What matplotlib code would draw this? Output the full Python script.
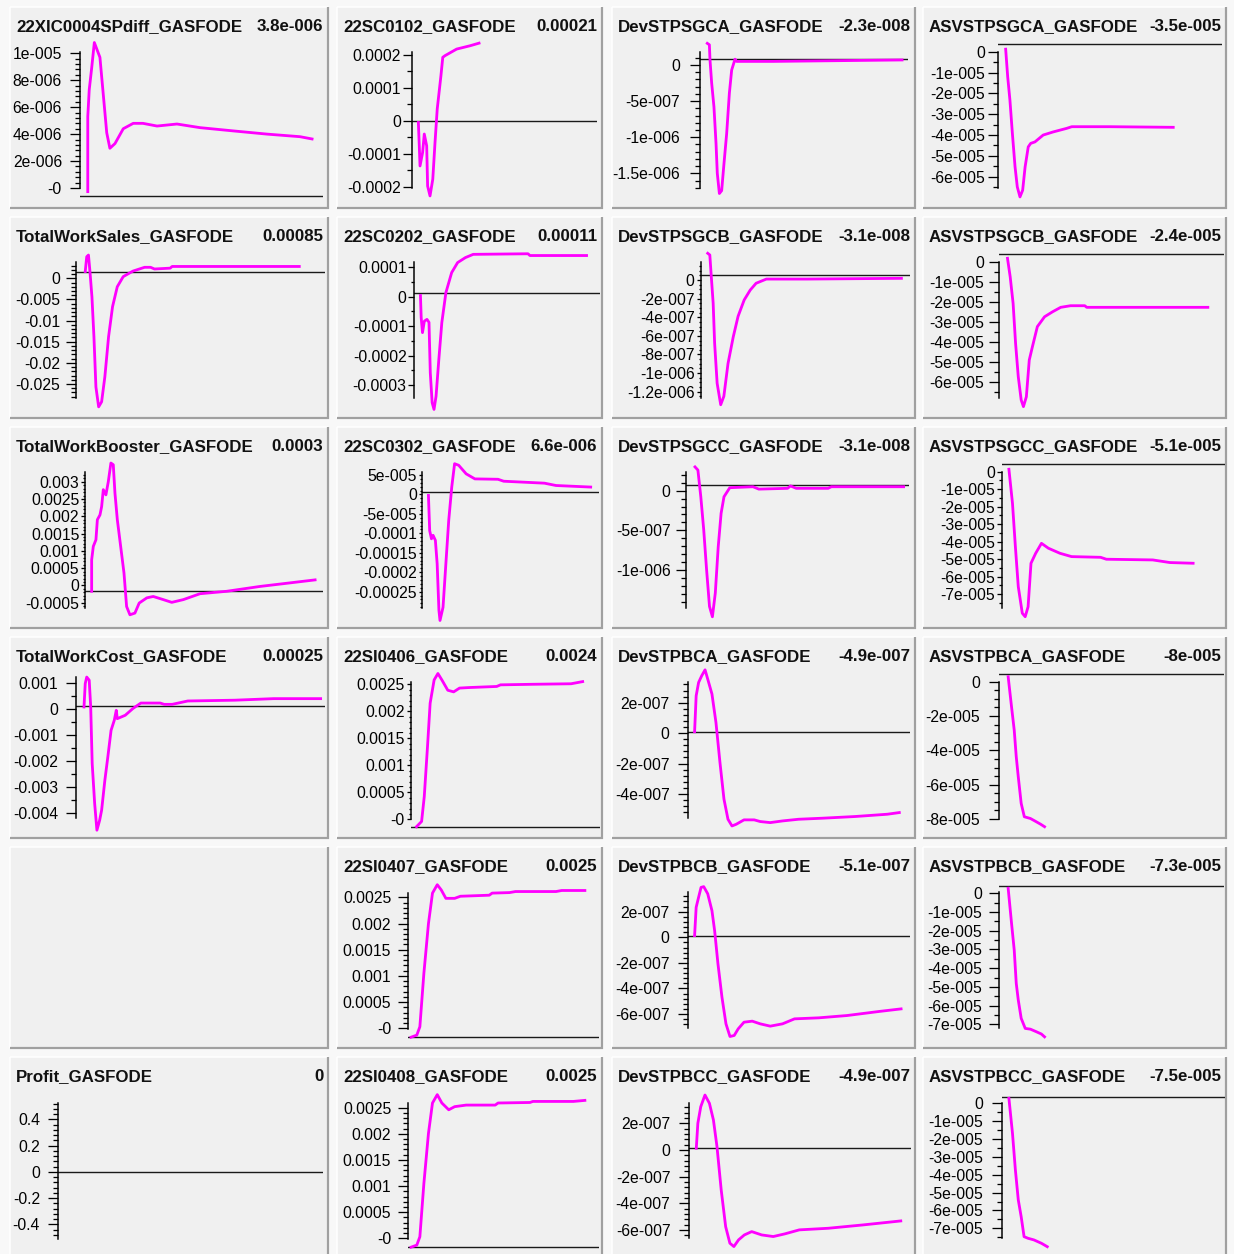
import numpy as np
import matplotlib
matplotlib.use("Agg")
import matplotlib.pyplot as plt
from matplotlib.patches import Rectangle
from matplotlib.ticker import FixedLocator, FixedFormatter

plt.rcParams['font.family'] = ['Liberation Sans', 'DejaVu Sans']

# ---------------- data (time in % of plot width, values in native units) ----------------
t_xic = [3.2, 3.2, 3.8, 4.8, 5.9, 8.2, 11.0, 12.3, 14.4, 17.8, 21.9, 25.9, 31.7, 39.9, 49.4, 63.0, 77.0, 90.5, 95.5]
y_xic = [-0.27e-6, 5.3e-6, 7.3e-6, 8.9e-6, 10.8e-6, 9.7e-6, 4.1e-6, 2.95e-6, 3.3e-6, 4.4e-6, 4.8e-6, 4.8e-6,
         4.6e-6, 4.75e-6, 4.48e-6, 4.24e-6, 4.0e-6, 3.81e-6, 3.64e-6]

t_sc0102 = [3.6, 4.1, 4.5, 5.9, 6.8, 8.1, 8.6, 9.9, 11.4, 12.6, 13.8, 15.8, 16.8, 18.0, 24.3, 31.5, 36.4]
y_sc0102 = [-0.05e-4, -0.76e-4, -1.37e-4, -0.96e-4, -0.40e-4, -0.76e-4, -1.98e-4, -2.28e-4, -1.77e-4,
            -0.66e-4, 0.36e-4, 1.37e-4, 1.93e-4, 1.98e-4, 2.18e-4, 2.28e-4, 2.36e-4]

t_dpsgca = [3.5, 4.5, 4.8, 5.6, 6.7, 7.7, 8.3, 9.3, 10.4, 11.5, 12.8, 14.1, 15.2, 16.8, 17.6, 35.2, 97.0]
y_dpsgca = [0.30e-6, 0.28e-6, 0.07e-6, -0.25e-6, -0.58e-6, -1.09e-6, -1.50e-6, -1.78e-6, -1.74e-6, -1.37e-6,
            -0.95e-6, -0.39e-6, -0.07e-6, 0.08e-6, 0.05e-6, 0.05e-6, 0.07e-6]

t_apsgca = [3.3, 4.2, 5.2, 6.3, 7.5, 8.5, 9.7, 10.9, 12.0, 13.4, 14.5, 16.4, 20.1, 24.6, 30.6, 32.9, 50.0, 78.3]
y_apsgca = [0.12e-5, -1.2e-5, -2.32e-5, -3.92e-5, -5.53e-5, -6.49e-5, -6.97e-5, -6.65e-5, -5.53e-5, -4.57e-5,
            -4.4e-5, -4.33e-5, -4.0e-5, -3.85e-5, -3.68e-5, -3.6e-5, -3.6e-5, -3.63e-5]

t_sales = [3.6, 4.2, 4.9, 5.5, 6.3, 7.1, 7.9, 9.0, 10.2, 11.5, 13.0, 14.6, 16.5, 18.9, 22.8, 27.5, 29.9, 31.5, 37.8, 38.6, 89.8]
y_sales = [0.0016, 0.0051, 0.0055, 0.0016, -0.0044, -0.0138, -0.0257, -0.0304, -0.0292, -0.0233, -0.0138,
           -0.0067, -0.0020, 0.0004, 0.0017, 0.0026, 0.0026, 0.0022, 0.0024, 0.0028, 0.0028]

t_sc0202 = [3.2, 3.6, 4.3, 5.3, 6.7, 7.8, 8.5, 9.5, 10.5, 11.6, 13.1, 14.7, 16.9, 20.0, 23.2, 27.4, 31.6, 61.1, 62.1, 92.6]
y_sc0202 = [0.04e-4, -0.71e-4, -1.22e-4, -0.83e-4, -0.77e-4, -0.87e-4, -2.59e-4, -3.6e-4, -3.83e-4, -3.38e-4,
            -2.13e-4, -0.88e-4, 0.14e-4, 0.82e-4, 1.16e-4, 1.33e-4, 1.44e-4, 1.46e-4, 1.40e-4, 1.40e-4]

t_dpsgcb = [3.4, 4.4, 5.0, 6.0, 6.7, 7.9, 9.6, 11.1, 13.1, 15.6, 17.9, 20.8, 23.7, 26.5, 31.4, 50.6, 95.9]
y_dpsgcb = [2.87e-7, 2.69e-7, 0.72e-7, -2.5e-7, -6.8e-7, -11.1e-7, -13.4e-7, -12.5e-7, -8.96e-7, -6.1e-7,
            -3.9e-7, -2.15e-7, -1.08e-7, -0.35e-7, 0.1e-7, 0.1e-7, 0.18e-7]

t_apsgcb = [3.6, 4.8, 6.1, 7.2, 8.4, 9.7, 10.7, 12.0, 13.3, 14.7, 16.9, 20.1, 23.7, 27.3, 31.7, 38.0, 38.9, 92.8]
y_apsgcb = [0.17e-5, -0.75e-5, -2.07e-5, -4.06e-5, -5.72e-5, -6.88e-5, -7.21e-5, -6.72e-5, -4.89e-5, -4.23e-5,
            -3.23e-5, -2.74e-5, -2.49e-5, -2.27e-5, -2.19e-5, -2.19e-5, -2.27e-5, -2.27e-5]

t_booster = [2.8, 2.8, 3.5, 4.6, 5.2, 6.3, 7.0, 7.7, 8.8, 9.8, 10.9, 11.9, 12.6, 13.6, 15.0, 16.4, 17.5, 18.9, 21.0,
             22.8, 26.0, 28.7, 32.9, 36.5, 41.4, 48.4, 59.6, 73.6, 83.4, 96.8]
y_booster = [-0.00017, 0.00074, 0.00113, 0.00132, 0.0019, 0.00204, 0.00228, 0.00277, 0.00262, 0.0030, 0.00354,
             0.00349, 0.00267, 0.0019, 0.00113, 0.00036, -0.00061, -0.00085, -0.0008, -0.00051, -0.00036,
             -0.00032, -0.00041, -0.00049, -0.00041, -0.00024, -0.00017, -0.00003, 0.00005, 0.00016]

t_sc0302 = [3.9, 4.6, 5.6, 6.5, 7.8, 8.8, 9.8, 10.4, 12.1, 13.7, 15.3, 17.0, 18.6, 20.9, 25.1, 30.0, 43.0, 46.2,
            69.1, 75.6, 85.3, 95.1]
y_sc0302 = [-0.26e-5, -9.3e-5, -11.4e-5, -10.5e-5, -11.8e-5, -17.8e-5, -29.8e-5, -32.4e-5, -29e-5, -17.8e-5,
            -6.7e-5, 1.9e-5, 7.9e-5, 7.5e-5, 5.3e-5, 4.0e-5, 3.9e-5, 3.4e-5, 2.9e-5, 2.3e-5, 2.1e-5, 1.9e-5]

t_dpsgcc = [3.9, 5.2, 6.5, 7.8, 9.1, 10.4, 11.7, 13.0, 14.3, 15.6, 16.9, 19.5, 29.9, 32.5, 45.4, 46.7, 49.3, 63.6, 65.0, 97.4]
y_dpsgcc = [3.0e-7, 2.6e-7, -0.76e-7, -4.9e-7, -10e-7, -14.6e-7, -15.9e-7, -12.9e-7, -7.1e-7, -2.85e-7,
            -0.76e-7, 0.38e-7, 0.5e-7, 0.2e-7, 0.3e-7, 0.6e-7, 0.3e-7, 0.3e-7, 0.5e-7, 0.5e-7]

t_apsgcc = [3.1, 4.7, 6.0, 7.3, 9.1, 10.4, 11.7, 13.0, 15.1, 17.7, 20.8, 26.0, 31.2, 44.2, 46.8, 67.6, 75.3, 85.7]
y_apsgcc = [0.14e-5, -1.81e-5, -4.29e-5, -6.58e-5, -8.1e-5, -8.3e-5, -7.73e-5, -5.24e-5, -4.67e-5, -4.1e-5,
            -4.38e-5, -4.67e-5, -4.86e-5, -4.9e-5, -5.01e-5, -5.05e-5, -5.2e-5, -5.24e-5]

t_cost = [3.1, 3.6, 4.2, 5.2, 5.8, 6.4, 7.4, 8.3, 9.4, 10.2, 11.5, 12.7, 14.0, 15.3, 16.1, 16.5, 19.7, 22.8, 26.0,
          33.8, 35.4, 38.6, 44.9, 63.8, 79.5, 98.4]
y_cost = [0.00009, 0.00099, 0.00124, 0.00112, 0.00009, -0.00209, -0.00363, -0.00465, -0.00427, -0.00388,
          -0.00273, -0.00183, -0.00081, -0.00042, -0.00004, -0.00036, -0.00023, 0.00003, 0.00024, 0.00024,
          0.00019, 0.00019, 0.00032, 0.00035, 0.00041, 0.00041]

t_si0406 = [3.1, 5.8, 7.2, 8.9, 10.3, 12.4, 14.4, 16.5, 19.6, 22.7, 25.8, 30.9, 45.4, 47.4, 63.9, 84.6, 90.7]
y_si0406 = [-0.000137, -0.00004, 0.00042, 0.00134, 0.00215, 0.00258, 0.0027, 0.00258, 0.00239, 0.00236,
            0.00243, 0.00244, 0.00246, 0.00249, 0.0025, 0.00251, 0.00255]

t_dpbca = [3.1, 3.8, 4.9, 6.3, 7.8, 9.0, 10.9, 12.7, 14.5, 16.3, 18.1, 19.9, 21.8, 25.3, 29.9, 32.6, 37.1, 42.6,
           49.8, 60.7, 75.2, 89.7, 95.1]
y_dpbca = [0.09e-7, 2.45e-7, 3.33e-7, 3.77e-7, 4.16e-7, 3.55e-7, 2.57e-7, 0.7e-7, -1.93e-7, -4.34e-7, -5.66e-7,
           -6.1e-7, -5.99e-7, -5.7e-7, -5.7e-7, -5.81e-7, -5.88e-7, -5.77e-7, -5.66e-7, -5.59e-7, -5.48e-7,
           -5.33e-7, -5.22e-7]

t_apbca = [3.9, 5.4, 6.6, 7.5, 8.4, 9.7, 11.1, 13.8, 15.6, 18.3, 20.1]
y_apbca = [0.29e-5, -1.46e-5, -2.82e-5, -4.37e-5, -5.54e-5, -7.09e-5, -7.87e-5, -7.97e-5, -8.1e-5, -8.3e-5, -8.45e-5]

t_si0407 = [1.5, 4.5, 6.1, 8.2, 10.6, 12.7, 15.2, 17.3, 19.7, 24.3, 27.3, 42.4, 43.9, 53.0, 56.1, 77.3, 80.3, 92.4]
y_si0407 = [-0.00017, -0.00013, 0.00003, 0.00105, 0.0020, 0.00258, 0.00274, 0.00264, 0.00248, 0.00248,
            0.00252, 0.00254, 0.00258, 0.00259, 0.00261, 0.00261, 0.00263, 0.00263]

t_dpbcb = [3.1, 3.8, 4.9, 6.0, 7.2, 9.0, 10.9, 12.1, 13.6, 15.4, 17.2, 19.0, 20.9, 22.7, 25.3, 29.0, 32.6, 37.1,
           42.6, 48.0, 58.9, 71.6, 86.1, 95.9]
y_dpbcb = [0.13e-7, 2.34e-7, 3.13e-7, 3.9e-7, 3.96e-7, 3.4e-7, 2.08e-7, 0.52e-7, -2.08e-7, -4.69e-7, -6.77e-7,
           -7.76e-7, -7.68e-7, -7.16e-7, -6.64e-7, -6.56e-7, -6.77e-7, -6.95e-7, -6.77e-7, -6.38e-7, -6.3e-7,
           -6.12e-7, -5.8e-7, -5.6e-7]

t_apbcb = [3.9, 5.4, 6.6, 7.5, 8.4, 9.7, 11.5, 13.8, 16.5, 18.7, 20.1]
y_apbcb = [0.27e-5, -1.6e-5, -3.03e-5, -4.81e-5, -5.7e-5, -6.68e-5, -7.22e-5, -7.26e-5, -7.4e-5, -7.52e-5, -7.67e-5]

t_si0408 = [1.5, 4.5, 6.1, 8.2, 10.6, 12.7, 15.2, 17.6, 21.2, 24.3, 30.3, 45.5, 47.0, 63.7, 65.2, 86.4, 92.4]
y_si0408 = [-0.00017, -0.00013, 0.00003, 0.00105, 0.00201, 0.00259, 0.00275, 0.00259, 0.00246, 0.00252,
            0.00255, 0.00255, 0.00259, 0.0026, 0.00262, 0.00262, 0.00264]

t_dpbcc = [3.5, 4.2, 5.5, 7.4, 9.4, 11.2, 12.8, 14.7, 16.7, 18.6, 20.4, 22.5, 25.1, 28.4, 32.9, 38.1, 43.3, 49.8,
           62.8, 78.4, 95.4]
y_dpbcc = [0.13e-7, 2.0e-7, 3.24e-7, 4.12e-7, 3.5e-7, 2.25e-7, 0.25e-7, -3.0e-7, -5.75e-7, -6.99e-7, -7.24e-7,
           -6.74e-7, -6.37e-7, -6.12e-7, -6.37e-7, -6.49e-7, -6.29e-7, -5.99e-7, -5.87e-7, -5.62e-7, -5.32e-7]

t_apbcc = [3.1, 4.7, 6.0, 7.3, 8.6, 9.9, 11.7, 14.3, 17.7, 20.3]
y_apbcc = [0.28e-5, -1.68e-5, -3.73e-5, -5.41e-5, -6.35e-5, -7.47e-5, -7.56e-5, -7.65e-5, -7.84e-5, -8.03e-5]

# tick sets
tk_asv7 = [0, -1e-5, -2e-5, -3e-5, -4e-5, -5e-5, -6e-5, -7e-5]
lb_asv7 = ['0', '-1e-005', '-2e-005', '-3e-005', '-4e-005', '-5e-005', '-6e-005', '-7e-005']
tk_si = [0.0025, 0.002, 0.0015, 0.001, 0.0005, 0]
lb_si = ['0.0025', '0.002', '0.0015', '0.001', '0.0005', '-0']
tk_dpb = [2e-7, 0, -2e-7, -4e-7, -6e-7]
lb_dpb = ['2e-007', '0', '-2e-007', '-4e-007', '-6e-007']

# name, value text, row, col, ticks, labels, minor step, zero-line level, t, y
panels = [
    ('22XIC0004SPdiff_GASFODE', '3.8e-006', 0, 0, [1e-5, 8e-6, 6e-6, 4e-6, 2e-6, 0],
     ['1e-005', '8e-006', '6e-006', '4e-006', '2e-006', '-0'], 4e-7, -0.6e-6, t_xic, y_xic),
    ('22SC0102_GASFODE', '0.00021', 0, 1, [2e-4, 1e-4, 0, -1e-4, -2e-4],
     ['0.0002', '0.0001', '0', '-0.0001', '-0.0002'], 5e-5, 0.0, t_sc0102, y_sc0102),
    ('DevSTPSGCA_GASFODE', '-2.3e-008', 0, 2, [0, -5e-7, -1e-6, -1.5e-6],
     ['0', '-5e-007', '-1e-006', '-1.5e-006'], 1e-7, 0.8e-7, t_dpsgca, y_dpsgca),
    ('ASVSTPSGCA_GASFODE', '-3.5e-005', 0, 3, tk_asv7[:7], lb_asv7[:7], 5e-6, 0.36e-5, t_apsgca, y_apsgca),
    ('TotalWorkSales_GASFODE', '0.00085', 1, 0, [0, -0.005, -0.01, -0.015, -0.02, -0.025],
     ['0', '-0.005', '-0.01', '-0.015', '-0.02', '-0.025'], 0.001, 0.00156, t_sales, y_sales),
    ('22SC0202_GASFODE', '0.00011', 1, 1, [1e-4, 0, -1e-4, -2e-4, -3e-4],
     ['0.0001', '0', '-0.0001', '-0.0002', '-0.0003'], 5e-5, 1.4e-5, t_sc0202, y_sc0202),
    ('DevSTPSGCB_GASFODE', '-3.1e-008', 1, 2, [0, -2e-7, -4e-7, -6e-7, -8e-7, -1e-6, -1.2e-6],
     ['0', '-2e-007', '-4e-007', '-6e-007', '-8e-007', '-1e-006', '-1.2e-006'], 5e-8, 0.54e-7, t_dpsgcb, y_dpsgcb),
    ('ASVSTPSGCB_GASFODE', '-2.4e-005', 1, 3, tk_asv7[:7], lb_asv7[:7], 5e-6, 0.37e-5, t_apsgcb, y_apsgcb),
    ('TotalWorkBooster_GASFODE', '0.0003', 2, 0, [0.003, 0.0025, 0.002, 0.0015, 0.001, 0.0005, 0, -0.0005],
     ['0.003', '0.0025', '0.002', '0.0015', '0.001', '0.0005', '0', '-0.0005'], 1e-4, -0.000173, t_booster, y_booster),
    ('22SC0302_GASFODE', '6.6e-006', 2, 1, [5e-5, 0, -5e-5, -1e-4, -1.5e-4, -2e-4, -2.5e-4],
     ['5e-005', '0', '-5e-005', '-0.0001', '-0.00015', '-0.0002', '-0.00025'], 1e-5, 0.67e-5, t_sc0302, y_sc0302),
    ('DevSTPSGCC_GASFODE', '-3.1e-008', 2, 2, [0, -5e-7, -1e-6],
     ['0', '-5e-007', '-1e-006'], 1e-7, 0.72e-7, t_dpsgcc, y_dpsgcc),
    ('ASVSTPSGCC_GASFODE', '-5.1e-005', 2, 3, tk_asv7, lb_asv7, 5e-6, 0.42e-5, t_apsgcc, y_apsgcc),
    ('TotalWorkCost_GASFODE', '0.00025', 3, 0, [0.001, 0, -0.001, -0.002, -0.003, -0.004],
     ['0.001', '0', '-0.001', '-0.002', '-0.003', '-0.004'], 5e-4, 0.000115, t_cost, y_cost),
    ('22SI0406_GASFODE', '0.0024', 3, 1, tk_si, lb_si, 1e-4, -0.000148, t_si0406, y_si0406),
    ('DevSTPBCA_GASFODE', '-4.9e-007', 3, 2, tk_dpb[:4], lb_dpb[:4], 4e-8, 0.085e-7, t_dpbca, y_dpbca),
    ('ASVSTPBCA_GASFODE', '-8e-005', 3, 3, [0, -2e-5, -4e-5, -6e-5, -8e-5],
     ['0', '-2e-005', '-4e-005', '-6e-005', '-8e-005'], 5e-6, 0.43e-5, t_apbca, y_apbca),
    ('22SI0407_GASFODE', '0.0025', 4, 1, tk_si, lb_si, 1e-4, -0.000172, t_si0407, y_si0407),
    ('DevSTPBCB_GASFODE', '-5.1e-007', 4, 2, tk_dpb, lb_dpb, 4e-8, 0.08e-7, t_dpbcb, y_dpbcb),
    ('ASVSTPBCB_GASFODE', '-7.3e-005', 4, 3, tk_asv7, lb_asv7, 5e-6, 0.39e-5, t_apbcb, y_apbcb),
    ('Profit_GASFODE', '0', 5, 0, [0.4, 0.2, 0, -0.2, -0.4],
     ['0.4', '0.2', '0', '-0.2', '-0.4'], 0.04, 0.0, [], []),
    ('22SI0408_GASFODE', '0.0025', 5, 1, tk_si, lb_si, 1e-4, -0.000172, t_si0408, y_si0408),
    ('DevSTPBCC_GASFODE', '-4.9e-007', 5, 2, tk_dpb, lb_dpb, 4e-8, 0.13e-7, t_dpbcc, y_dpbcc),
    ('ASVSTPBCC_GASFODE', '-7.5e-005', 5, 3, tk_asv7, lb_asv7, 5e-6, 0.37e-5, t_apbcc, y_apbcc),
]

# ---------------- layout (pixels) ----------------
W, H = 1234, 1254
COLS = [(10, 328.3), (337.3, 602), (612.3, 915), (922.5, 1226)]
ROW0, ROWSTEP, PANEL_H = 6.7, 210, 201.6
# spine_x, end_x, pixel y of first tick, pixel y of last tick, label gap, spine top offset, spine bottom offset
LAYOUT = {
    '22XIC0004SPdiff_GASFODE': (80, 323, 53.3, 188, 18, 45, 181.6),
    '22SC0102_GASFODE': (411.7, 596.7, 55, 186.7, 10.7, 45, 181.6),
    'DevSTPSGCA_GASFODE': (700, 908.3, 65, 173.3, 20, 45, 181.6),
    'ASVSTPSGCA_GASFODE': (998.3, 1221.7, 51.7, 176.7, 13.3, 45, 181.6),
    'TotalWorkSales_GASFODE': (76.3, 324.6, 278.3, 384, 16, 45, 181.6),
    '22SC0202_GASFODE': (414.5, 600.3, 267.3, 385, 7.8, 45, 181.6),
    'DevSTPSGCB_GASFODE': (700.6, 910, 280, 391.7, 6, 45, 181.6),
    'ASVSTPSGCB_GASFODE': (999.4, 1224, 261.7, 382.3, 15.4, 45, 181.6),
    'TotalWorkBooster_GASFODE': (85, 322.7, 481.7, 602.7, 5.7, 45, 181.6),
    '22SC0302_GASFODE': (421.5, 599.4, 475, 591.7, 4.6, 45, 181.6),
    'DevSTPSGCC_GASFODE': (686.3, 909.4, 490.7, 570, 15.6, 45, 181.6),
    'ASVSTPSGCC_GASFODE': (1002, 1225, 471.7, 594, 7, 45, 181.6),
    'TotalWorkCost_GASFODE': (76.3, 324.6, 683.3, 813.3, 18.4, 40, 181.6),
    '22SI0406_GASFODE': (410.6, 600.3, 684.3, 819.3, 5.8, 45, 182.6),
    'DevSTPBCA_GASFODE': (687.7, 910.2, 702.7, 794, 18.2, 45, 181.6),
    'ASVSTPBCA_GASFODE': (999.4, 1224, 681.7, 819, 19.4, 45, 182.3),
    '22SI0407_GASFODE': (408.2, 599.4, 897.3, 1028.3, 17, 46, 182.6),
    'DevSTPBCB_GASFODE': (687.7, 910.2, 911.7, 1014, 18.2, 45, 181.6),
    'ASVSTPBCB_GASFODE': (999.4, 1224, 893.3, 1024.3, 17.4, 45, 181.6),
    'Profit_GASFODE': (58.3, 322.7, 1119.3, 1224.3, 18.3, 46.6, 182.3),
    '22SI0408_GASFODE': (408.2, 599.4, 1107.7, 1238.3, 17, 46.6, 182.6),
    'DevSTPBCC_GASFODE': (688.5, 911, 1123.3, 1230, 18, 46.6, 181.6),
    'ASVSTPBCC_GASFODE': (1002, 1225, 1103.3, 1228.3, 19, 46.6, 181.6),
}

PT = 0.72  # points per pixel at 100 dpi
fig = plt.figure(figsize=(W / 100, H / 100), dpi=100)
fig.patch.set_facecolor('#f8f8f8')
bg = fig.add_axes([0, 0, 1, 1])
bg.set_xlim(0, W)
bg.set_ylim(H, 0)
bg.axis('off')
bg.set_zorder(-5)

# panel backgrounds (including the empty slot)
slots = [(r, c) for r in range(6) for c in range(4)]
for r, c in slots:
    x0, x1 = COLS[c]
    y0 = ROW0 + ROWSTEP * r
    y1 = y0 + PANEL_H
    bg.add_patch(Rectangle((x0, y0), x1 - x0, y1 - y0, fc='#f0f0f0', ec='none'))
    bg.plot([x0, x1], [y0, y0], color='#ffffff', lw=1.5 * PT, solid_capstyle='butt')
    bg.plot([x0, x0], [y0, y1], color='#ffffff', lw=1.5 * PT, solid_capstyle='butt')
    bg.plot([x1, x1], [y0, y1 + 1], color='#a0a0a0', lw=2.2 * PT, solid_capstyle='butt')
    bg.plot([x0, x1 + 1], [y1, y1], color='#a0a0a0', lw=2.2 * PT, solid_capstyle='butt')

for (name, val, r, c, ticks, labels, minor, base, tt, yy) in panels:
    x0, x1 = COLS[c]
    y0 = ROW0 + ROWSTEP * r
    sx, ex, py_top, py_bot, gap, s_top, s_bot = LAYOUT[name]
    bg.text(x0 + 6, y0 + 24, name, ha='left', va='baseline', fontsize=12.2, fontweight='bold', color='#111111')
    bg.text(x1 - 5, y0 + 24, val, ha='right', va='baseline', fontsize=12.2, fontweight='bold', color='#111111')

    T, B = y0 + 28, y0 + 200
    ax = fig.add_axes([sx / W, 1 - B / H, (ex - sx) / W, (B - T) / H])
    ax.patch.set_visible(False)
    v_top, v_bot = ticks[0], ticks[-1]
    k = (py_bot - py_top) / (v_top - v_bot)  # pixels per unit
    ax.set_ylim(v_top - (B - py_top) / k, v_top + (py_top - T) / k)
    ax.set_xlim(0, 100)
    sv_top = v_top + (py_top - (y0 + s_top)) / k
    sv_bot = v_top - ((y0 + s_bot) - py_top) / k
    for s in ('top', 'right', 'bottom'):
        ax.spines[s].set_visible(False)
    ax.spines['left'].set_bounds(sv_bot, sv_top)
    ax.spines['left'].set_linewidth(1.5 * PT)
    ax.spines['left'].set_color('#000000')
    ax.xaxis.set_visible(False)

    ax.yaxis.set_major_locator(FixedLocator(ticks))
    ax.yaxis.set_major_formatter(FixedFormatter(labels))
    i0 = int(np.ceil(sv_bot / minor - 1e-6))
    i1 = int(np.floor(sv_top / minor + 1e-6))
    ax.yaxis.set_minor_locator(FixedLocator([i * minor for i in range(i0, i1 + 1)]))
    maj = min(10.0, max(gap - 2.0, 3.5))
    pad = max(gap - maj, 0.5)
    ax.tick_params(axis='y', which='major', direction='out', length=maj * PT, width=1.3 * PT,
                   pad=pad * PT, labelsize=11.3, colors='#000000')
    ax.tick_params(axis='y', which='minor', direction='out', length=maj * 0.55 * PT, width=1.3 * PT)

    ax.axhline(base, color='#1a1a1a', lw=1.4 * PT, zorder=2)
    if len(tt):
        ax.plot(tt, yy, color='#ff00ff', lw=2.8 * PT, zorder=3, clip_on=False)

fig.savefig('out.png', dpi=100, facecolor=fig.get_facecolor())
